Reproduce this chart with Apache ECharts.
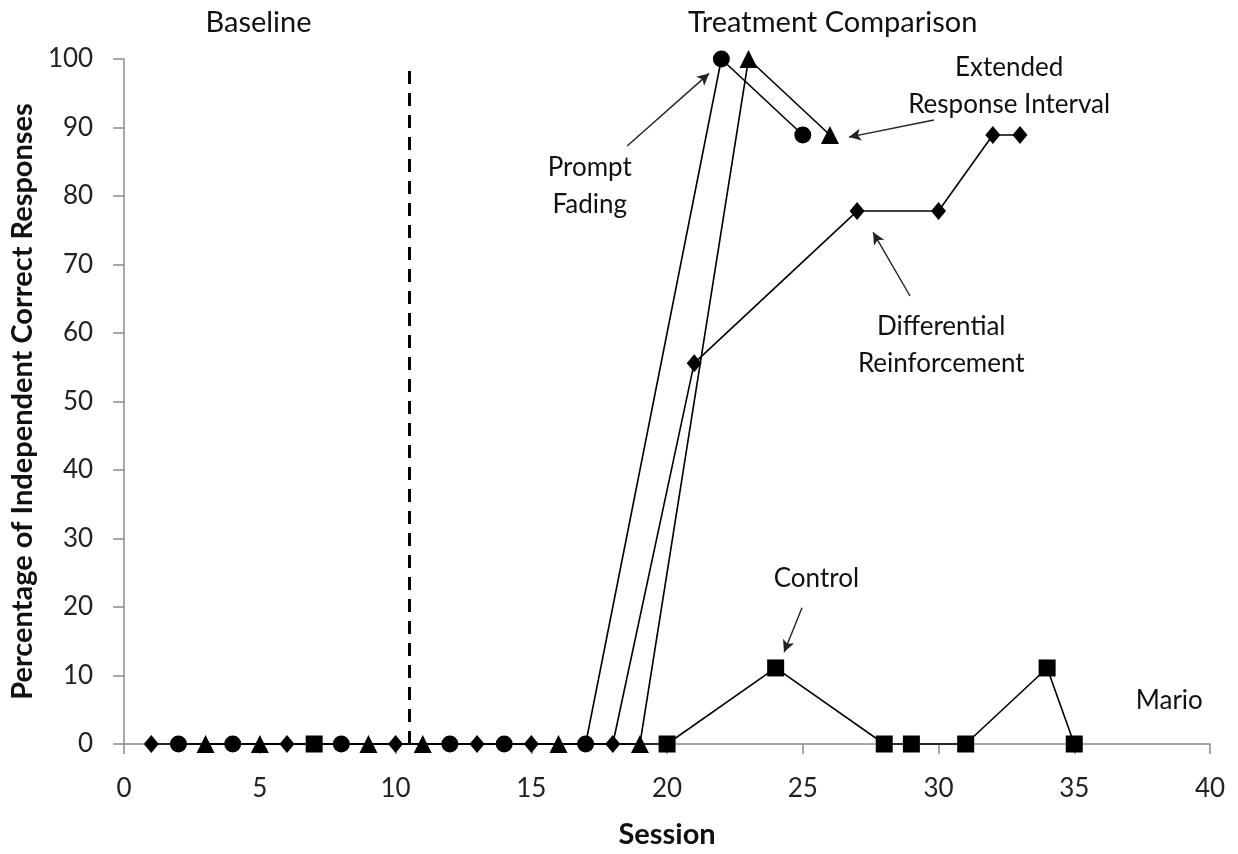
<!DOCTYPE html>
<html>
<head>
<meta charset="utf-8">
<script src="https://cdn.jsdelivr.net/npm/echarts@6/dist/echarts.min.js"></script>
<style>
html,body{margin:0;padding:0;background:#fff;}
#main{width:1238px;height:854px;}
</style>
</head>
<body>
<div id="main"></div>
<script>
// ---- data ----
const xTicks = [0, 5, 10, 15, 20, 25, 30, 35, 40];
const yTicks = [0, 10, 20, 30, 40, 50, 60, 70, 80, 90, 100];

const drSessions = [1, 6, 10, 13, 15, 18, 21, 27, 30, 32, 33];
const drValues   = [0, 0, 0, 0, 0, 0, 55.6, 77.8, 77.8, 88.9, 88.9];

const pfSessions = [2, 4, 8, 12, 14, 17, 22, 25];
const pfValues   = [0, 0, 0, 0, 0, 0, 100, 88.9];

const eriSessions = [3, 5, 9, 11, 16, 19, 23, 26];
const eriValues   = [0, 0, 0, 0, 0, 0, 100, 88.9];

const ctrlSessions = [7, 20, 24, 28, 29, 31, 34, 35];
const ctrlValues   = [0, 0, 11.1, 0, 0, 0, 11.1, 0];

const phaseChange = 10.5;
const phaseTop = 98.7;

// phase headings (data coordinates, above the plot)
const headingTexts = ['Baseline', 'Treatment Comparison'];
const headingX = [4.95, 26.1];
const headingY = [105.3, 105.3];

// annotation texts and anchors (data coordinates)
const labelTexts = ['Extended\nResponse Interval', 'Prompt\nFading', 'Differential\nReinforcement', 'Control', 'Mario'];
const labelX = [32.6, 17.15, 30.1, 25.5, 38.5];
const labelY = [96.0, 81.5, 58.2, 24.2, 6.3];

// arrows: from -> to (data coordinates)
const arrowFromX = [18.53, 29.83, 28.95, 24.97];
const arrowFromY = [87.3, 91.1, 65.4, 19.9];
const arrowToX   = [21.55, 26.7, 27.59, 24.31];
const arrowToY   = [97.9, 88.6, 74.7, 13.4];

// ---- build ----
const pairs = (xs, ys) => xs.map((x, i) => [x, ys[i]]);
const FONT = 'Lato';
const TEXT_COLOR = '#111';

const lineStyle = { color: '#000', width: 1.6 };
function mkSeries(name, xs, ys, symbol, size) {
  return {
    name, type: 'line', data: pairs(xs, ys), symbol, symbolSize: size,
    itemStyle: { color: '#000' }, lineStyle, clip: false, z: 3,
    emphasis: { disabled: true }, animation: false
  };
}

const annotSeries = {
  type: 'line', data: [], silent: true, animation: false,
  markPoint: {
    symbol: 'circle', symbolSize: 0, silent: true,
    label: {
      show: true, position: 'inside', color: TEXT_COLOR, fontFamily: FONT, fontSize: 26,
      lineHeight: 37, align: 'center', verticalAlign: 'middle',
      formatter: p => p.name
    },
    data: labelTexts.map((t, i) => ({ name: t, coord: [labelX[i], labelY[i]] }))
  },
  markLine: {
    silent: true, animation: false,
    symbol: ['none', 'arrow'], symbolSize: [9, 12],
    lineStyle: { color: '#222', width: 1.4, type: 'solid' },
    label: { show: false },
    data: arrowFromX.map((x, i) => [
      { coord: [x, arrowFromY[i]] },
      { coord: [arrowToX[i], arrowToY[i]] }
    ]).concat([[
      { coord: [phaseChange, 0], symbol: 'none', lineStyle: { type: [13, 9], width: 3, color: '#000' } },
      { coord: [phaseChange, phaseTop], symbol: 'none' }
    ]])
  }
};

const chart = echarts.init(document.getElementById('main'), null, { renderer: 'canvas' });
chart.setOption({
  animation: false,
  backgroundColor: '#fff',
  grid: { left: 124, right: 28, top: 59, bottom: 108 },
  xAxis: {
    type: 'value', min: xTicks[0], max: xTicks[xTicks.length - 1], interval: 5,
    name: 'Session', nameLocation: 'middle', nameGap: 76,
    nameTextStyle: { fontFamily: FONT, fontWeight: 'bold', fontSize: 29, color: TEXT_COLOR },
    axisLine: { show: true, lineStyle: { color: '#8c8c8c', width: 1.5 } },
    axisTick: { show: true, length: 10, inside: false, lineStyle: { color: '#8c8c8c', width: 1.5 } },
    axisLabel: { fontFamily: FONT, fontSize: 26, color: '#222', margin: 32 },
    splitLine: { show: false }
  },
  yAxis: {
    type: 'value', min: yTicks[0], max: yTicks[yTicks.length - 1], interval: 10,
    name: 'Percentage of Independent Correct Responses', nameLocation: 'middle', nameGap: 79,
    nameTextStyle: { fontFamily: FONT, fontWeight: 'bold', fontSize: 29, color: TEXT_COLOR },
    axisLine: { show: true, lineStyle: { color: '#8c8c8c', width: 1.5 } },
    axisTick: { show: true, length: 11, inside: false, lineStyle: { color: '#8c8c8c', width: 1.5 } },
    axisLabel: { fontFamily: FONT, fontSize: 26, color: '#222', margin: 31 },
    splitLine: { show: false }
  },
  series: [
    annotSeries,
    mkSeries('Differential Reinforcement', drSessions, drValues, 'diamond', [15, 18]),
    mkSeries('Prompt Fading', pfSessions, pfValues, 'circle', 17),
    mkSeries('Extended Response Interval', eriSessions, eriValues, 'triangle', 18),
    mkSeries('Control', ctrlSessions, ctrlValues, 'rect', 17)
  ]
});

// phase headings placed through the chart's own scales
chart.setOption({
  graphic: headingTexts.map((t, i) => {
    const p = chart.convertToPixel({ gridIndex: 0 }, [headingX[i], headingY[i]]);
    return {
      type: 'text', x: p[0], y: p[1], silent: true,
      style: { text: t, fill: TEXT_COLOR, font: '29px ' + FONT, align: 'center', verticalAlign: 'middle' }
    };
  })
});
</script>
</body>
</html>
